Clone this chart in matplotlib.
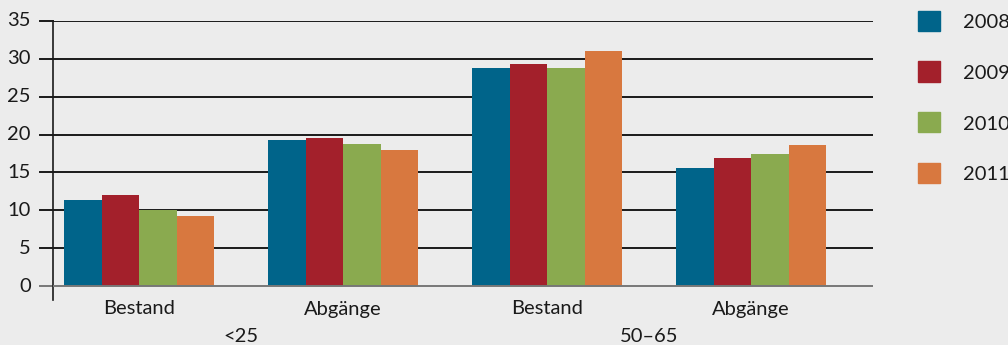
import matplotlib
matplotlib.use("Agg")
import matplotlib.pyplot as plt
import numpy as np

categories = ["Bestand", "Abgänge", "Bestand", "Abgänge"]
age_groups = ["<25", "50–65"]
years = ["2008", "2009", "2010", "2011"]
v2008 = [11.4, 19.3, 28.8, 15.6]
v2009 = [12.0, 19.6, 29.3, 16.9]
v2010 = [10.0, 18.7, 28.8, 17.4]
v2011 = [9.2, 17.9, 31.1, 18.6]
series = [v2008, v2009, v2010, v2011]
colors = ["#00648a", "#a3202b", "#8aaa4f", "#d8783f"]
yticks = [0, 5, 10, 15, 20, 25, 30, 35]

plt.rcParams['font.family'] = ['Lato', 'DejaVu Sans']
FS = 14.5
TC = "#1a1a1a"
bg = "#ececec"
W, H = 1008, 345
fig = plt.figure(figsize=(W / 100, H / 100), dpi=100, facecolor=bg)
ax = fig.add_axes([53 / W, 1 - 300 / H, (873 - 53) / W, (300 - 21) / H], facecolor=bg)

px_per_unit = (286 - 21) / 35.0
ymin = -(300 - 286) / px_per_unit
ax.set_ylim(ymin, 35)
spacing = 204.0
ax.set_xlim((53 - 139) / spacing, (873 - 139) / spacing)

x = np.arange(len(categories))
bw = 37.5 / spacing
for i, (vals, c) in enumerate(zip(series, colors)):
    ax.bar(x + (i - 1.5) * bw, vals, width=bw, color=c, zorder=3, label=years[i], linewidth=0)

for t in yticks:
    col = "#777777" if t == 0 else "#1a1a1a"
    ax.axhline(t, color=col, lw=1.4, zorder=1 if t else 4)
    ax.plot([-13 / 820, 0], [t, t], transform=ax.get_yaxis_transform(), color=col, lw=1.4, clip_on=False)
    ax.text(-22 / 820, t, str(t), transform=ax.get_yaxis_transform(), ha='right', va='center',
            fontsize=FS, color=TC)

for s in ["top", "right", "bottom"]:
    ax.spines[s].set_visible(False)
ax.spines["left"].set_color("#1a1a1a")
ax.spines["left"].set_linewidth(1.2)
ax.spines["left"].set_bounds(ymin, 35)

ax.set_yticks([])
ax.set_xticks([])

def ypix(p):
    return 1 - (p - 21) / (300 - 21)

for xi, lab in zip(x, categories):
    ax.text(xi, ypix(309), lab, transform=ax.get_xaxis_transform(), ha='center', va='center',
            fontsize=FS, color=TC)

for j, g in enumerate(age_groups):
    xc = (x[2 * j] + x[2 * j + 1]) / 2
    ax.text(xc, ypix(336), g, transform=ax.get_xaxis_transform(),
            ha='center', va='center', fontsize=FS, color=TC)

# legend
for i, (yr, c) in enumerate(zip(years, colors)):
    yc = 21 + i * 50.5
    fig.patches.append(plt.Rectangle((918 / W, 1 - (yc + 10) / H), 22 / W, 20 / H,
                                     transform=fig.transFigure, color=c, figure=fig))
    fig.text(963 / W, 1 - (yc + 2) / H, yr, ha='left', va='center', fontsize=FS, color=TC)

fig.savefig("out.png", dpi=100, facecolor=bg)
